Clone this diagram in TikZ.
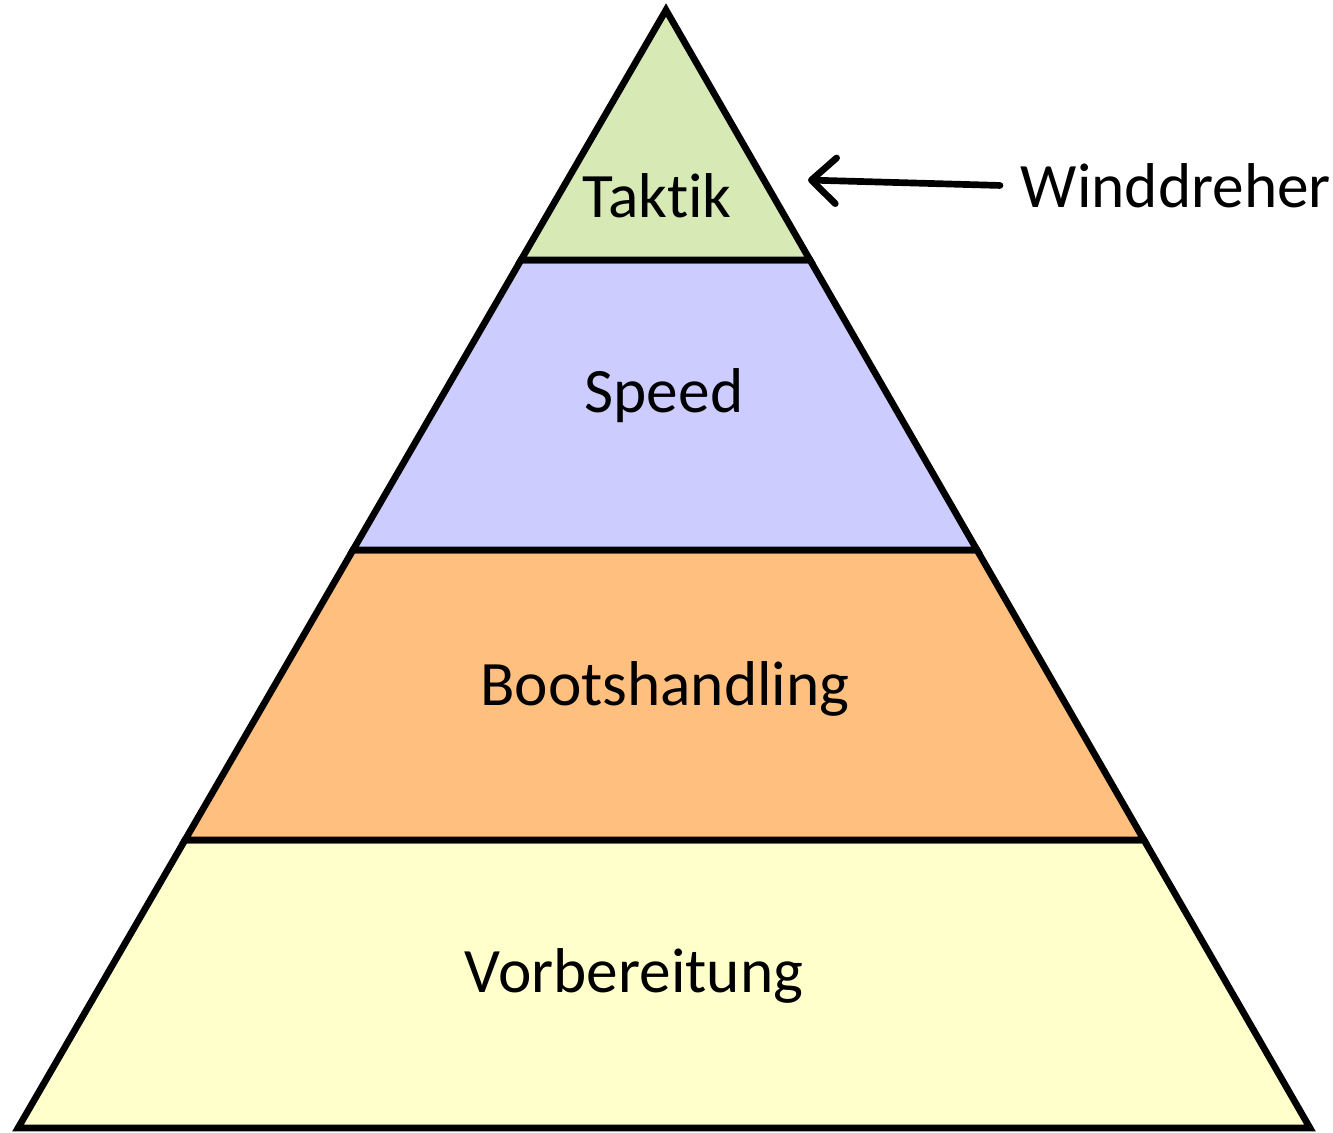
\documentclass[tikz,border=0pt]{standalone}
\usepackage{fontspec}
\setmainfont[Ligatures=NoCommon]{Carlito}
\usetikzlibrary{arrows.meta}
\definecolor{taktik}{HTML}{D7E9B4}
\definecolor{speed}{HTML}{CCCCFF}
\definecolor{boot}{HTML}{FFBF7F}
\definecolor{vorb}{HTML}{FFFFCC}
\tikzset{
    layer/.style = {draw=black, line width=1.9pt, line join=miter},
    layer-label/.style = {font=\fontsize{18}{22}\selectfont, inner sep=0pt},
    side-arrow/.style = {line width=1.9pt, line cap=round, -{Straight Barb[length=7pt, width=13pt, line width=1.9pt, round]}},
}
\begin{document}
\begin{tikzpicture}[x=0.01cm, y=-0.01cm]
\useasboundingbox (0,0) rectangle (1333,1132);
% pyramid layers, from the bottom up
\draw[layer, fill=vorb] (185,840) -- (1144,840) -- (1310,1128) -- (18,1128) -- cycle;
\draw[layer, fill=boot] (353,550) -- (977,550) -- (1144,840) -- (185,840) -- cycle;
\draw[layer, fill=speed] (521,260) -- (810,260) -- (977,550) -- (353,550) -- cycle;
\draw[layer, fill=taktik] (666,10) -- (810,260) -- (521,260) -- cycle;
% labels
\node[layer-label] (taktik) at (657,196) {Taktik};
\node[layer-label] (speed) at (664,396) {Speed};
\node[layer-label] (boot) at (665,689) {Bootshandling};
\node[layer-label] (vorb) at (634,976) {Vorbereitung};
\node[layer-label, anchor=west] (dreher) at (1020,186) {Winddreher};
\coordinate (tip) at (808,180);
\draw[side-arrow, shorten <=0.2cm] (dreher.west) -- (tip);
\end{tikzpicture}
\end{document}
